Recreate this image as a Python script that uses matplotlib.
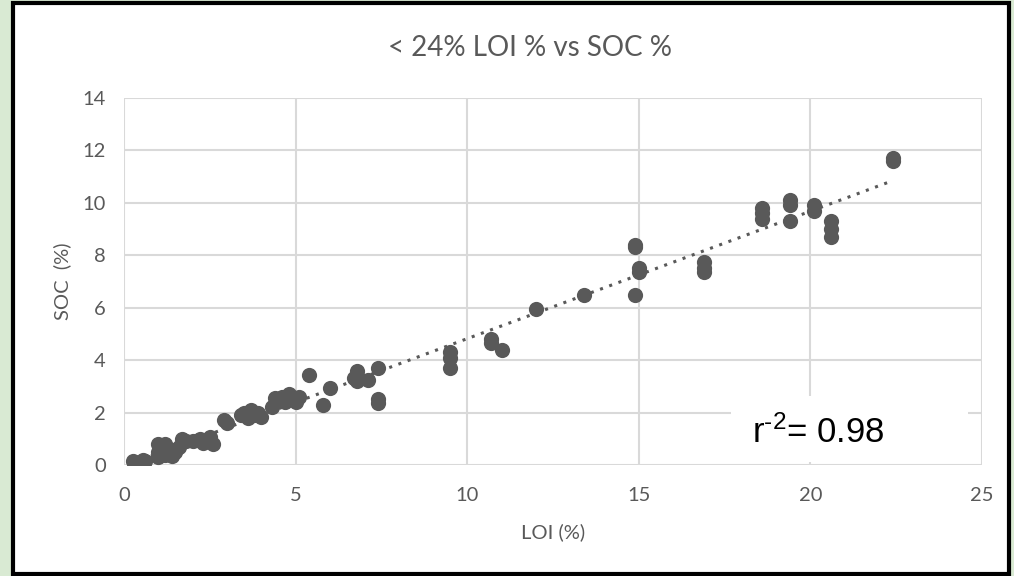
import numpy as np
import matplotlib
matplotlib.use("Agg")
import matplotlib.pyplot as plt
from matplotlib.patches import Rectangle

# LOI (%) e SOC (%)
loi = [0.25, 0.3, 0.35, 0.5, 0.55, 0.6,
       1.0, 1.0, 1.0, 1.2, 1.2, 1.3, 1.4, 1.5, 1.6, 1.7, 1.8, 2.0, 2.2, 2.3, 2.5, 2.6,
       2.9, 3.0, 3.4, 3.5, 3.6, 3.7, 3.8, 3.9, 4.0,
       4.3, 4.4, 4.6, 4.7, 4.8, 4.9, 5.0, 5.1,
       5.4, 5.8, 6.0,
       6.7, 6.8, 6.8, 6.8, 7.1, 7.4, 7.4, 7.4,
       9.5, 9.5, 9.5,
       10.7, 10.7, 11.0,
       12.0, 13.4,
       14.9, 14.9, 15.0, 15.0, 14.9,
       16.9, 16.9, 16.9,
       18.6, 18.6, 18.6,
       19.4, 19.4, 19.4,
       20.1, 20.1,
       20.6, 20.6, 20.6,
       22.4, 22.4]
soc = [0.15, 0.1, 0.05, 0.1, 0.2, 0.15,
       0.8, 0.5, 0.3, 0.8, 0.4, 0.6, 0.35, 0.5, 0.7, 1.0, 0.9, 0.9, 1.0, 0.85, 1.05, 0.8,
       1.7, 1.6, 1.9, 2.0, 1.8, 2.1, 1.9, 2.0, 1.85,
       2.2, 2.55, 2.6, 2.4, 2.7, 2.5, 2.4, 2.6,
       3.45, 2.3, 2.95,
       3.3, 3.6, 3.4, 3.2, 3.25, 3.7, 2.5, 2.35,
       4.3, 4.1, 3.7,
       4.8, 4.65, 4.4,
       5.95, 6.5,
       8.4, 8.3, 7.5, 7.35, 6.5,
       7.75, 7.5, 7.35,
       9.8, 9.6, 9.4,
       10.1, 9.9, 9.3,
       9.9, 9.7,
       9.3, 9.0, 8.7,
       11.7, 11.6]

x_ticks = [0, 5, 10, 15, 20, 25]
y_ticks = [0, 2, 4, 6, 8, 10, 12, 14]
r2_texto = "r$^{\u2010\\mathregular{2}}$= 0.98"

cinza = "#595959"
plt.rcParams["font.family"] = ["Lato", "DejaVu Sans"]
plt.rcParams["mathtext.fontset"] = "custom"
plt.rcParams["mathtext.rm"] = "Liberation Sans"
plt.rcParams["mathtext.it"] = "Liberation Sans"

fig = plt.figure(figsize=(10.14, 5.76), dpi=100, facecolor="#d9ead3")
# moldura do gráfico
fig.patches.append(Rectangle((13 / 1014, 1 - 574 / 576), 996 / 1014, 571 / 576,
                             transform=fig.transFigure, facecolor="white",
                             edgecolor="black", linewidth=3, zorder=-1))

ax = fig.add_axes([124 / 1014, 1 - 465 / 576, 858 / 1014, 367 / 576])
ax.set_facecolor("white")

ax.scatter(loi, soc, s=120, color=cinza, zorder=3, linewidths=0)

# linha de tendência linear
a, b = np.polyfit(loi, soc, 1)
xs = np.array([min(loi), max(loi)])
ax.plot(xs, a * xs + b, linestyle=(0, (1, 2.2)), color=cinza, linewidth=2.2, zorder=2)

ax.set_xlim(0, 25)
ax.set_ylim(0, 14)
ax.set_xticks(x_ticks)
ax.set_yticks(y_ticks)
ax.grid(True, color="#d9d9d9", linewidth=1.5)
ax.set_axisbelow(True)
for lado in ["top", "right", "left", "bottom"]:
    ax.spines[lado].set_visible(False)
ax.tick_params(axis="both", length=0, labelsize=14.5, labelcolor=cinza)
ax.tick_params(axis="x", pad=16)
ax.tick_params(axis="y", pad=13)

ax.set_xlabel("LOI (%)", fontsize=14.5, color=cinza, labelpad=14)
ax.set_ylabel("SOC  (%)", fontsize=14.5, color=cinza, labelpad=8)
fig.text(530 / 1014, 1 - 48 / 576, "< 24% LOI % vs SOC %", fontsize=20,
         color=cinza, ha="center", va="center")

# caixa do r²
fig.patches.append(Rectangle((731 / 1014, 1 - 462 / 576), 237 / 1014, 66 / 576,
                             transform=fig.transFigure, facecolor="white",
                             edgecolor="none", zorder=5))
fig.text(752 / 1014, 1 - 443 / 576, r2_texto, fontsize=25, color="black",
         family="Liberation Sans", ha="left", va="baseline", zorder=6)

plt.savefig("out.png", dpi=100, facecolor=fig.get_facecolor())
